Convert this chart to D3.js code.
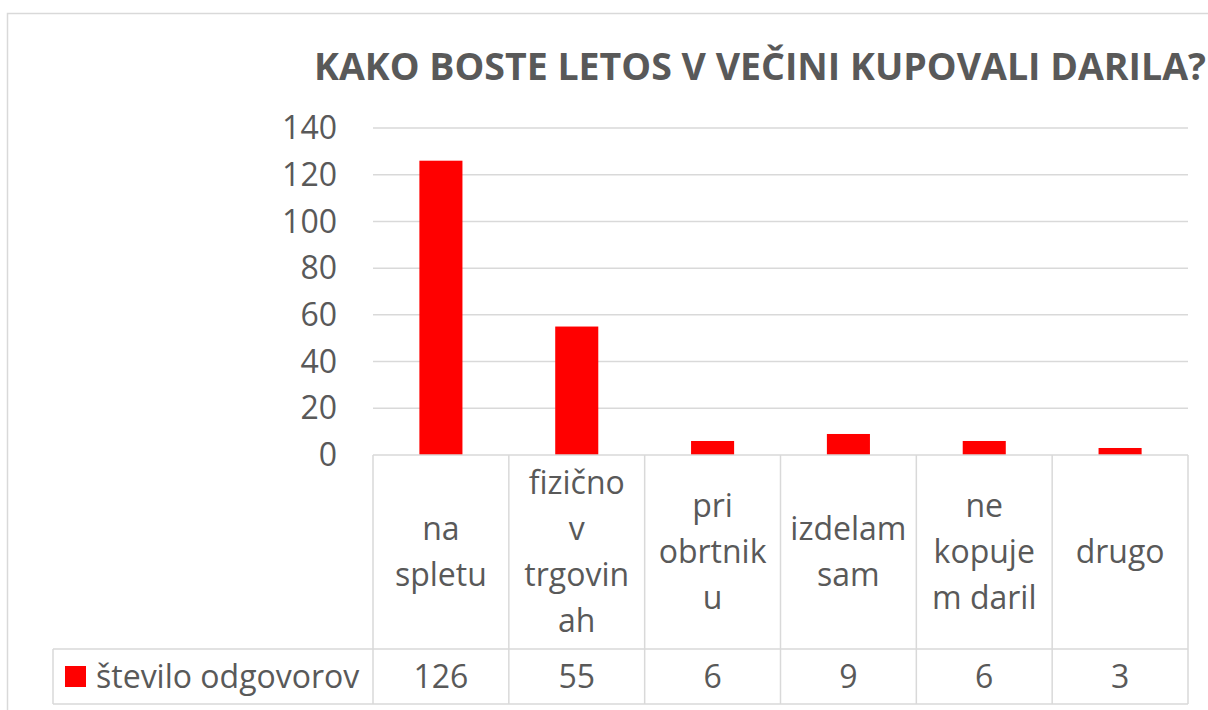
<!DOCTYPE html>
<html>
<head>
<meta charset="utf-8">
<script src="https://cdn.jsdelivr.net/npm/d3@7"></script>
<style>
  body { margin: 0; background: #fff; }
  text { font-family: "Open Sans", sans-serif; fill: #595959; }
</style>
</head>
<body>
<div id="chart"></div>
<script>
// data
const categories = ['na spletu', 'fizično v trgovinah', 'pri obrtniku', 'izdelam sam', 'ne kopujem daril', 'drugo'];
const labelLines = [['na', 'spletu'], ['fizično', 'v', 'trgovin', 'ah'], ['pri', 'obrtnik', 'u'], ['izdelam', 'sam'], ['ne', 'kopuje', 'm daril'], ['drugo']];
const values = [126, 55, 6, 9, 6, 3];
const yTicks = [0, 20, 40, 60, 80, 100, 120, 140];
const seriesName = 'število odgovorov';
const title = 'KAKO BOSTE LETOS V VEČINI KUPOVALI DARILA?';

// style configs
const width = 1208, height = 710;
const grid = '#d9d9d9';
const red = '#ff0000';
const plot = { left: 373, right: 1188, top: 128, bottom: 455 };
const tableRow = 649, tableBottom = 704, legendLeft = 53;
const fontSize = 32;

const svg = d3.select('#chart').append('svg')
  .attr('width', width)
  .attr('height', height);

// chart area border
svg.append('rect')
  .attr('x', 7.5).attr('y', 13.5)
  .attr('width', 1230).attr('height', 720)
  .attr('fill', '#fff')
  .attr('stroke', grid).attr('stroke-width', 1.5);

svg.append('text')
  .attr('x', 760).attr('y', 80)
  .attr('text-anchor', 'middle')
  .style('font-weight', 'bold')
  .style('font-size', '37.5px')
  .text(title);

const x = d3.scaleBand()
  .domain(categories)
  .range([plot.left, plot.right])
  .paddingInner(0.683)
  .paddingOuter(0.683 / 2);

const y = d3.scaleLinear()
  .domain([0, 140])
  .range([plot.bottom, plot.top]);

// gridlines
svg.append('g')
  .selectAll('line')
  .data(yTicks.slice(1))
  .enter()
  .append('line')
  .attr('x1', plot.left).attr('x2', plot.right)
  .attr('y1', d => y(d)).attr('y2', d => y(d))
  .attr('stroke', grid).attr('stroke-width', 1.5);

// y tick labels
svg.append('g')
  .selectAll('text')
  .data(yTicks)
  .enter()
  .append('text')
  .attr('x', 337)
  .attr('y', d => y(d))
  .attr('dy', '0.35em')
  .attr('text-anchor', 'end')
  .style('font-size', fontSize + 'px')
  .text(d => d);

// bars
svg.append('g')
  .selectAll('rect')
  .data(values)
  .enter()
  .append('rect')
  .attr('x', (d, i) => x(categories[i]))
  .attr('y', d => y(d))
  .attr('width', x.bandwidth())
  .attr('height', d => y(0) - y(d))
  .attr('fill', red);

// data table
const step = x.step();
const colEdges = categories.map(c => x(c) - x.paddingOuter() * step).concat([plot.right]);
const tbl = svg.append('g').attr('stroke', grid).attr('stroke-width', 1.5);

tbl.append('line')
  .attr('x1', plot.left).attr('x2', plot.right)
  .attr('y1', plot.bottom).attr('y2', plot.bottom);
tbl.append('line')
  .attr('x1', legendLeft).attr('x2', plot.right)
  .attr('y1', tableRow).attr('y2', tableRow);
tbl.append('line')
  .attr('x1', legendLeft).attr('x2', plot.right)
  .attr('y1', tableBottom).attr('y2', tableBottom);
tbl.append('line')
  .attr('x1', legendLeft).attr('x2', legendLeft)
  .attr('y1', tableRow).attr('y2', tableBottom);
tbl.selectAll('.col')
  .data(colEdges)
  .enter()
  .append('line')
  .attr('class', 'col')
  .attr('x1', d => d).attr('x2', d => d)
  .attr('y1', plot.bottom).attr('y2', tableBottom);

// category labels, centred in their cells
const lineH = 46;
const cellMid = (plot.bottom + tableRow) / 2;
const cat = svg.append('g')
  .selectAll('text')
  .data(categories)
  .enter()
  .append('text')
  .attr('text-anchor', 'middle')
  .style('font-size', fontSize + 'px');

cat.each(function (c, i) {
  const lines = labelLines[i];
  const cx = x(c) + x.bandwidth() / 2;
  const y0 = cellMid - (lines.length - 1) * lineH / 2;
  d3.select(this).selectAll('tspan')
    .data(lines)
    .enter()
    .append('tspan')
    .attr('x', cx)
    .attr('y', (l, j) => y0 + j * lineH)
    .attr('dy', '0.35em')
    .text(l => l);
});

// value row
svg.append('g')
  .selectAll('text')
  .data(values)
  .enter()
  .append('text')
  .attr('x', (d, i) => x(categories[i]) + x.bandwidth() / 2)
  .attr('y', (tableRow + tableBottom) / 2)
  .attr('dy', '0.35em')
  .attr('text-anchor', 'middle')
  .style('font-size', fontSize + 'px')
  .text(d => d);

// legend key
svg.append('rect')
  .attr('x', 65).attr('y', 666)
  .attr('width', 21).attr('height', 21)
  .attr('fill', red);
svg.append('text')
  .attr('x', 96)
  .attr('y', (tableRow + tableBottom) / 2)
  .attr('dy', '0.35em')
  .style('font-size', fontSize + 'px')
  .text(seriesName);
</script>
</body>
</html>
